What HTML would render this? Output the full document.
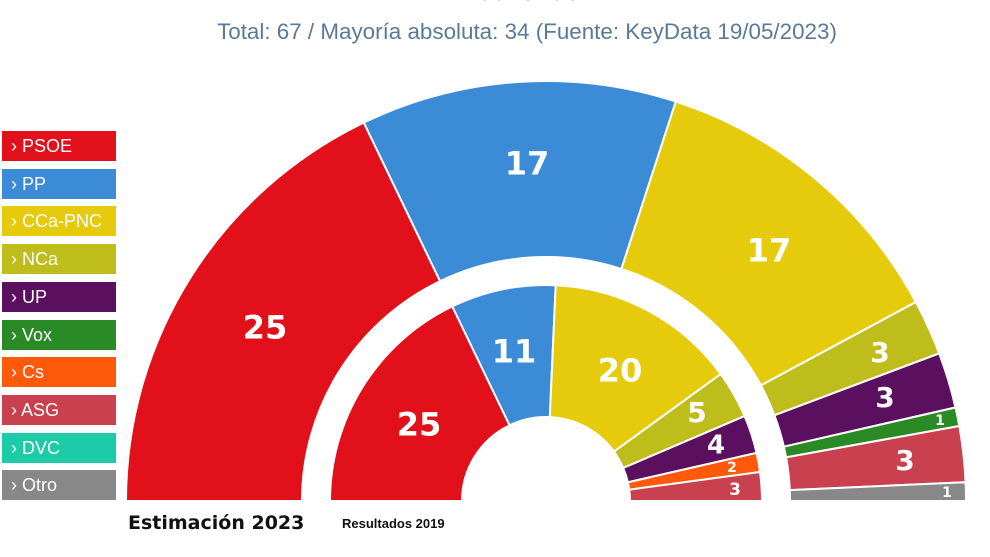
<!DOCTYPE html>
<html><head><meta charset="utf-8"><style>
body{margin:0;width:990px;height:557px;background:#fff;overflow:hidden;font-family:"Liberation Sans",sans-serif}
.lg{position:absolute;left:2px;width:114px;height:30px;color:#fff;font-size:18px;line-height:30px;box-sizing:border-box;padding-left:9px}
</style></head><body>
<div style="position:absolute;left:0;top:-24px;width:1054px;text-align:center;font-size:26px;color:#333">Canarias</div>
<div style="position:absolute;left:0;top:19px;width:1054px;text-align:center;font-size:22.4px;color:#5a7a9a">Total: 67 / Mayoría absoluta: 34 (Fuente: KeyData 19/05/2023)</div>
<div class="lg" style="top:131px;background:#e2101a">› PSOE</div>
<div class="lg" style="top:169px;background:#3b8bd6">› PP</div>
<div class="lg" style="top:206px;background:#e6cb0c">› CCa-PNC</div>
<div class="lg" style="top:244px;background:#bfbd1c">› NCa</div>
<div class="lg" style="top:282px;background:#5a0f5f">› UP</div>
<div class="lg" style="top:320px;background:#2a8a25">› Vox</div>
<div class="lg" style="top:357px;background:#ff5a0a">› Cs</div>
<div class="lg" style="top:395px;background:#c9414e">› ASG</div>
<div class="lg" style="top:433px;background:#1ecba8">› DVC</div>
<div class="lg" style="top:470px;background:#888">› Otro</div>
<svg id="s" width="990" height="557" style="position:absolute;left:0;top:0"></svg>
<div style="position:absolute;left:128px;top:512px;font-size:19px;font-weight:bold;color:#111;font-family:'DejaVu Sans',sans-serif">Estimación 2023</div>
<div style="position:absolute;left:342px;top:516px;font-size:13px;font-weight:bold;color:#111">Resultados 2019</div>
<script>
var C={PSOE:'#e2101a',PP:'#3b8bd6',CCa:'#e6cb0c',NCa:'#bfbd1c',UP:'#5a0f5f',Vox:'#2a8a25',Cs:'#ff5a0a',ASG:'#c9414e',Otro:'#888'};
var cx=546,cy=501,h='';
function ring(data,r0,r1){var a=Math.PI,tot=70;data.forEach(function(d){var b=a-d[1]/tot*Math.PI;
function p(r,t){return (cx+r*Math.cos(t)).toFixed(1)+','+(cy-r*Math.sin(t)).toFixed(1)}
h+='<path d="M'+p(r0,a)+' L'+p(r1,a)+' A'+r1+','+r1+' 0 0 1 '+p(r1,b)+' L'+p(r0,b)+' A'+r0+','+r0+' 0 0 0 '+p(r0,a)+'Z" fill="'+C[d[0]]+'" stroke="#fff" stroke-width="2"/>';a=b;});}
ring([['PSOE',25],['PP',17],['CCa',17],['NCa',3],['UP',3],['Vox',1],['ASG',3],['Otro',1]],244,420);
ring([['PSOE',25],['PP',11],['CCa',20],['NCa',5],['UP',4],['Cs',2],['ASG',3]],84,216);
var L=[[265,327,32,'25'],[527,163,32,'17'],[769,250,32,'17'],[880,352,28,'3'],[885,397,28,'3'],[940,420,14,'1'],[905,460,28,'3'],[947,492,14,'1'],
[419,424,32,'25'],[514,351,32,'11'],[620,370,32,'20'],[697,412,28,'5'],[716,444,26,'4'],[732,467,14,'2'],[735,489,17,'3']];
L.forEach(function(l){h+='<text x="'+l[0]+'" y="'+(l[1]+l[2]*0.36)+'" font-size="'+l[2]+'" font-weight="bold" fill="#fff" text-anchor="middle" font-family="DejaVu Sans,sans-serif">'+l[3]+'</text>'});
document.getElementById('s').innerHTML=h;
</script>
</body></html>
